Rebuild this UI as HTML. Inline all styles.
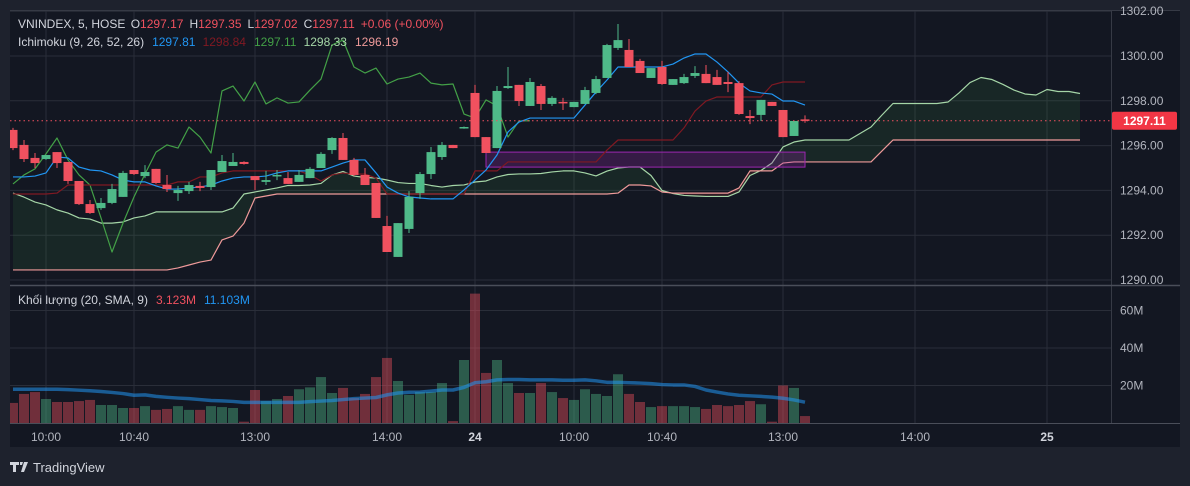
<!DOCTYPE html>
<html><head><meta charset="utf-8">
<style>
html,body{margin:0;padding:0;background:#1e222d;width:1190px;height:486px;overflow:hidden;font-family:"Liberation Sans",sans-serif;}
svg{position:absolute;left:0;top:0}
text{font-family:"Liberation Sans",sans-serif}
</style></head>
<body>
<svg id="c" width="1190" height="486">
  <rect x="10" y="10" width="1170" height="437" fill="#131722"/>
  <g id="grid"></g>
  <defs>
    <clipPath id="pp"><rect x="10" y="10" width="1101" height="275"/></clipPath>
    <clipPath id="vp"><rect x="10" y="286" width="1101" height="137"/></clipPath>
  </defs>
  <g id="cloud" clip-path="url(#pp)"></g>
  <g id="lines" clip-path="url(#pp)"></g>
  <g id="candles" clip-path="url(#pp)"></g>
  <g id="vol" clip-path="url(#vp)"></g>
  <g id="axes"></g>
  <g font-size="12">
    <text x="18" y="28" fill="#d1d4dc">VNINDEX, 5, HOSE <tspan dx="2">O</tspan><tspan fill="#f0515f">1297.17</tspan><tspan dx="6">H</tspan><tspan fill="#f0515f">1297.35</tspan><tspan dx="6">L</tspan><tspan fill="#f0515f">1297.02</tspan><tspan dx="6">C</tspan><tspan fill="#f0515f">1297.11</tspan><tspan dx="6" fill="#f0515f">+0.06 (+0.00%)</tspan></text>
    <text x="18" y="46" fill="#d1d4dc">Ichimoku (9, 26, 52, 26)<tspan dx="8" fill="#2196f3">1297.81</tspan><tspan dx="8" fill="#801922">1298.84</tspan><tspan dx="8" fill="#43a047">1297.11</tspan><tspan dx="8" fill="#a5d6a7">1298.33</tspan><tspan dx="8" fill="#ef9a9a">1296.19</tspan></text>
  </g>
  <g font-size="12">
    <text x="18" y="304" fill="#d1d4dc">Khối lượng (20, SMA, 9)<tspan dx="8" fill="#f0515f">3.123M</tspan><tspan dx="8" fill="#2196f3">11.103M</tspan></text>
  </g>
  <g>
    <path d="M10 462h9v3h-3v7h-3v-7h-3z M20 462h3l-1 3h-2z M24 462h4l-4 10h-3z" fill="#d1d4dc"/>
    <text x="33" y="472" fill="#d1d4dc" font-size="13">TradingView</text>
  </g>
</svg>
<script>
const candleO=[1296.70,1296.03,1295.45,1295.40,1295.71,1295.27,1294.42,1293.39,1293.21,1293.44,1293.71,1294.91,1294.64,1294.96,1294.24,1293.88,1293.97,1294.20,1294.15,1294.82,1295.09,1295.27,1294.64,1294.38,1294.64,1294.55,1294.38,1294.55,1295.00,1295.80,1296.34,1295.36,1294.69,1294.33,1292.41,1291.03,1292.28,1293.88,1294.73,1295.49,1296.03,1296.77,1298.35,1296.38,1295.89,1298.57,1298.71,1297.77,1298.66,1297.86,1297.95,1297.72,1297.86,1298.35,1299.02,1300.36,1300.27,1299.78,1299.02,1299.51,1298.71,1298.79,1299.11,1299.20,1299.06,1298.84,1298.79,1297.32,1297.37,1297.95,1297.59,1296.43,1297.17];
const candleH=[1296.79,1296.25,1295.67,1295.58,1295.71,1295.27,1294.42,1293.57,1293.66,1294.29,1294.87,1294.91,1295.13,1294.96,1294.69,1294.20,1294.38,1294.38,1294.91,1295.58,1295.67,1295.30,1294.64,1294.87,1294.91,1294.82,1294.91,1295.04,1295.71,1296.38,1296.56,1295.45,1295.00,1294.33,1292.86,1292.54,1293.97,1294.82,1295.94,1296.16,1296.03,1296.85,1298.71,1296.38,1298.66,1299.51,1298.71,1299.02,1298.75,1298.21,1298.13,1297.95,1298.62,1299.11,1300.54,1301.43,1300.76,1299.87,1299.46,1299.78,1298.97,1299.20,1299.55,1299.60,1299.38,1299.29,1298.88,1297.59,1298.04,1297.95,1297.59,1297.10,1297.35];
const candleL=[1295.80,1295.27,1295.00,1295.36,1295.00,1294.29,1293.35,1292.95,1293.13,1293.39,1293.71,1294.69,1294.55,1294.29,1293.93,1293.53,1293.84,1293.97,1294.02,1294.82,1295.09,1295.15,1294.02,1294.24,1294.46,1294.29,1294.38,1294.55,1295.00,1295.63,1295.36,1294.64,1294.24,1292.77,1291.25,1291.03,1292.10,1293.62,1294.51,1295.36,1295.89,1296.75,1296.38,1295.67,1295.89,1298.53,1297.77,1297.77,1297.59,1297.77,1297.59,1297.72,1297.86,1298.30,1299.02,1300.27,1299.51,1299.24,1299.02,1298.71,1298.71,1298.75,1299.02,1298.79,1298.71,1298.39,1297.37,1296.96,1297.10,1297.77,1296.38,1296.43,1297.02];
const candleC=[1295.89,1295.40,1295.22,1295.58,1295.22,1294.42,1293.39,1292.99,1293.44,1294.06,1294.78,1294.73,1294.82,1294.33,1294.06,1294.02,1294.24,1294.11,1294.91,1295.31,1295.27,1295.18,1294.46,1294.46,1294.69,1294.29,1294.69,1294.96,1295.63,1296.34,1295.36,1294.69,1294.24,1292.77,1291.25,1292.54,1293.71,1294.73,1295.71,1296.03,1295.89,1296.83,1296.38,1295.67,1298.44,1298.66,1297.99,1298.84,1297.86,1298.13,1297.90,1297.95,1298.48,1298.97,1300.49,1300.71,1299.51,1299.24,1299.46,1298.75,1298.97,1299.06,1299.24,1298.79,1298.71,1298.75,1297.41,1297.23,1298.04,1297.77,1296.38,1297.10,1297.11];
const volume=[10.7,15.5,16.5,12.8,11.2,11.2,11.7,12.3,9.6,9.6,8,8,9,7,7.5,9,7,7,9,8.5,8,0.7,17.6,11.7,12.8,14.4,18,19,24.5,16,18.7,13.3,15.5,24.5,34.7,22.4,15,16.5,16.5,21.3,1,33.6,69,26.7,33.6,21.3,16,16,21.3,16.5,13.3,12.3,18,15.5,14.4,26,15.5,11.2,8.5,9,9,9,8.5,7.5,9.6,9,9.6,11.7,10,0.7,20,18.7,3.7];
const volumeSMA=[18,18,18,18,18,17.8,17.5,17.2,16.8,16.3,15.7,14.8,15,14.2,13.7,13.3,13,12.5,12,11.8,11.5,11,11,11,11,11,11,11.4,11.7,12,12.5,13,13.3,13.6,15,16,16.4,16.5,17,17.6,17.6,19,21.5,22,23,23.2,23.2,23,23,23,22.8,22.8,23,22.5,21.7,21.7,21.5,21.3,21,20.5,20.3,20.3,19.5,17.6,16.5,15.5,14.8,14.5,14.2,13.8,13.2,12.3,11.1];
const tenkan=[1294.60,1294.60,1294.64,1294.78,1295.49,1295.45,1295.04,1294.91,1294.87,1294.69,1294.46,1294.38,1294.38,1294.20,1294.06,1294.06,1294.11,1294.15,1294.24,1294.42,1294.55,1294.60,1294.60,1294.64,1294.78,1294.87,1294.87,1294.87,1294.87,1295.04,1295.22,1295.36,1295.36,1294.78,1294.15,1293.88,1293.71,1293.66,1293.62,1293.62,1293.62,1294.02,1294.46,1294.91,1295.58,1296.61,1297.05,1297.23,1297.23,1297.23,1297.23,1297.23,1297.81,1298.39,1298.93,1299.51,1299.51,1299.51,1299.51,1299.51,1299.64,1299.91,1300.09,1300.09,1299.73,1299.29,1298.79,1298.44,1298.35,1298.30,1297.99,1297.99,1297.81];
const kijun=[1293.84,1293.84,1293.84,1293.84,1293.88,1294.24,1294.24,1294.24,1294.24,1294.24,1294.24,1294.24,1294.24,1294.24,1294.24,1294.38,1294.38,1294.60,1294.60,1294.78,1294.87,1294.87,1294.87,1294.87,1294.87,1294.87,1294.87,1294.69,1294.42,1294.69,1294.78,1294.73,1294.73,1294.55,1293.84,1293.84,1293.84,1293.84,1293.84,1293.84,1293.84,1293.84,1294.87,1294.87,1294.87,1295.27,1295.27,1295.27,1295.27,1295.27,1295.27,1295.27,1295.27,1295.27,1295.80,1296.25,1296.25,1296.25,1296.25,1296.25,1296.25,1296.79,1297.54,1297.99,1298.17,1298.17,1298.17,1298.17,1298.17,1298.71,1298.84,1298.84,1298.84];
const senkouAHistory=[1293.88,1293.70,1293.48,1293.35,1293.13,1292.99,1292.77,1292.72,1292.54,1292.54,1292.59,1292.77,1292.86,1293.04,1293.04,1293.04,1293.04,1293.04,1293.04,1293.04,1293.21,1293.84,1293.93,1294.02,1294.11];
const senkouB=[1290.45,1290.45,1290.45,1290.45,1290.45,1290.45,1290.45,1290.45,1290.45,1290.45,1290.45,1290.45,1290.45,1290.45,1290.45,1290.54,1290.67,1290.80,1290.89,1291.79,1291.96,1292.54,1293.66,1293.75,
1293.84,1293.84,1293.84,1293.84,1293.84,1293.84,1293.84,1293.84,1293.84,1293.84,1293.84,1293.84,1293.84,1293.84,1293.84,1293.84,1293.84,1293.84,1293.84,1293.84,1293.84,1293.84,1293.84,1293.84,1293.84,1293.84,1293.84,1293.84,1293.84,1293.84,1293.84,
1293.88,1294.24,1294.24,1294.20,1293.93,1293.88,1293.88,1293.88,1293.88,1293.88,1293.88,1294.11,1294.87,1294.87,1294.87,1295.22,1295.27,1295.27,1295.27,1295.27,1295.27,1295.27,1295.27,1295.27,1295.76,
1296.25,1296.25,1296.25,1296.25,1296.25,1296.25,1296.25,1296.25,1296.25,1296.25,1296.25,1296.25,1296.25,1296.25,1296.25,1296.25,1296.25,1296.25];
const priceTicks=[1290,1292,1294,1296,1298,1300,1302];
const priceTickLabels=["1290.00","1292.00","1294.00","1296.00","1298.00","1300.00","1302.00"];
const volTicks=[20,40,60];
const volTickLabels=["20M","40M","60M"];
const timeTickIdx=[3,11,22,34,42,51,59,70,82,94];
const timeTickLabels=["10:00","10:40","13:00","14:00","24","10:00","10:40","13:00","14:00","25"];
const zoneStart=43, zoneEnd=72, zoneTop=1295.71, zoneBottom=1295.04;
const lastPrice=1297.11;
const displacement=25;

const NS="http://www.w3.org/2000/svg";
const xS=i=>13+11*i;
const yP=p=>56+(1300-p)*22.4;
const yV=v=>423-v*1.875;
function mk(tag,attrs,parent){const e=document.createElementNS(NS,tag);for(const k in attrs)e.setAttribute(k,attrs[k]);parent.appendChild(e);return e;}
const G=id=>document.getElementById(id);
const GREEN="#4fba89",RED="#f0515f";

// grid
const grid=G('grid');
timeTickIdx.forEach(i=>{const l=mk('line',{x1:xS(i),x2:xS(i),y1:10,y2:423,stroke:'#2a2e39','stroke-width':1},grid);

});
priceTicks.forEach(p=>{const l=mk('line',{x1:10,x2:1111,y1:yP(p),y2:yP(p),stroke:'#2a2e39'},grid);

});
volTicks.forEach(v=>{const l=mk('line',{x1:10,x2:1111,y1:yV(v),y2:yV(v),stroke:'#2a2e39'},grid);

});

// cloud
const senkouA=senkouAHistory.concat(tenkan.map((t,i)=>(t+kijun[i])/2));
const cloud=G('cloud');
for(let i=0;i<senkouA.length-1;i++){
  const a0=senkouA[i],a1=senkouA[i+1],b0=senkouB[i],b1=senkouB[i+1];
  const up=(a0+a1)>=(b0+b1);
  const q=mk('polygon',{points:`${xS(i)},${yP(a0)} ${xS(i+1)},${yP(a1)} ${xS(i+1)},${yP(b1)} ${xS(i)},${yP(b0)}`,fill:up?'rgba(67,160,71,0.12)':'rgba(244,67,54,0.12)'},cloud);
  
  
}
const lines=G('lines');
function poly(vals,off,color,name,w){
  const pts=vals.map((v,i)=>`${xS(i+off)},${yP(v)}`).join(' ');
  const p=mk('polyline',{points:pts,fill:'none',stroke:color,'stroke-width':w||1.2,'stroke-linejoin':'round'},lines);
  
  
}
poly(senkouA,0,'#a5d6a7','senkou-span-a');
poly(senkouB,0,'#ef9a9a','senkou-span-b');
// zone box
const zb=mk('rect',{x:xS(zoneStart),y:yP(zoneTop),width:xS(zoneEnd)-xS(zoneStart),height:yP(zoneBottom)-yP(zoneTop),fill:'rgba(156,39,176,0.25)',stroke:'#9c27b0','stroke-width':1},lines);


const chikou=candleC.slice(displacement);
poly(chikou,0,'#43a047','chikou-span');
poly(kijun,0,'#801922','kijun-sen');
poly(tenkan,0,'#2196f3','tenkan-sen');

// candles
const cg=G('candles');
candleO.forEach((o,i)=>{
  const c=candleC[i],up=c>=o,col=up?GREEN:RED,x=xS(i);
  const w=mk('line',{x1:x,x2:x,y1:yP(candleH[i]),y2:yP(candleL[i]),stroke:col,'stroke-width':1},cg);
  
  
  const top=yP(Math.max(o,c)),h=Math.max(1.5,Math.abs(yP(o)-yP(c)));
  const b=mk('rect',{x:x-4.5,y:top,width:9,height:h,fill:col},cg);
  
  
});
// last price line
const lp=mk('line',{x1:10,x2:1111,y1:yP(lastPrice),y2:yP(lastPrice),stroke:RED,'stroke-dasharray':'1.5,3','stroke-width':1},cg);



// volume
const vg=G('vol');
volume.forEach((v,i)=>{
  const up=candleC[i]>=candleO[i];
  const r=mk('rect',{x:xS(i)-5,y:yV(v),width:10,height:423-yV(v),fill:up?'rgba(79,186,137,0.42)':'rgba(240,81,95,0.42)'},vg);
  
  
});
const vs=mk('polyline',{points:volumeSMA.map((v,i)=>`${xS(i)},${yV(v)}`).join(' '),fill:'none',stroke:'rgba(33,150,243,0.55)','stroke-width':3.5,'stroke-linejoin':'round'},vg);



// axes
const ax=G('axes');
function ln(a,name){const l=mk('line',a,ax);}
ln({x1:1111.5,x2:1111.5,y1:10,y2:423,stroke:'#363a45'},'price-axis-border');
ln({x1:10,x2:1180,y1:285.5,y2:285.5,stroke:'#4a4e59','stroke-width':1.5},'pane-divider');
ln({x1:10,x2:1180,y1:423.5,y2:423.5,stroke:'#4a4e59'},'time-axis-border');
ln({x1:10,x2:1180,y1:10.5,y2:10.5,stroke:'#363a45'},'chart-top-border');
function tx(x,y,s,a,name,extra){const t=mk('text',Object.assign({x:x,y:y,fill:'#b2b5be','font-size':12},a||{}),ax);t.textContent=s;return t;}
priceTicks.forEach((p,i)=>tx(1120,yP(p)+4,priceTickLabels[i],{},'price-tick-label'));
volTicks.forEach((v,i)=>tx(1120,yV(v)+4,volTickLabels[i],{},'volume-tick-label'));
timeTickIdx.forEach((i,k)=>{const b=/^\d+$/.test(timeTickLabels[k]);tx(xS(i),441,timeTickLabels[k],{'text-anchor':'middle','font-weight':b?'bold':'normal',fill:b?'#d1d4dc':'#b2b5be'},'time-tick-label');});
const pl=mk('rect',{x:1112,y:yP(lastPrice)-9,width:65,height:18,rx:2,fill:'#f23645'},ax);


tx(1144.5,yP(lastPrice)+4.5,lastPrice.toFixed(2),{fill:'#ffffff','font-weight':'bold','text-anchor':'middle'},'last-price-text');
</script>
</body></html>
